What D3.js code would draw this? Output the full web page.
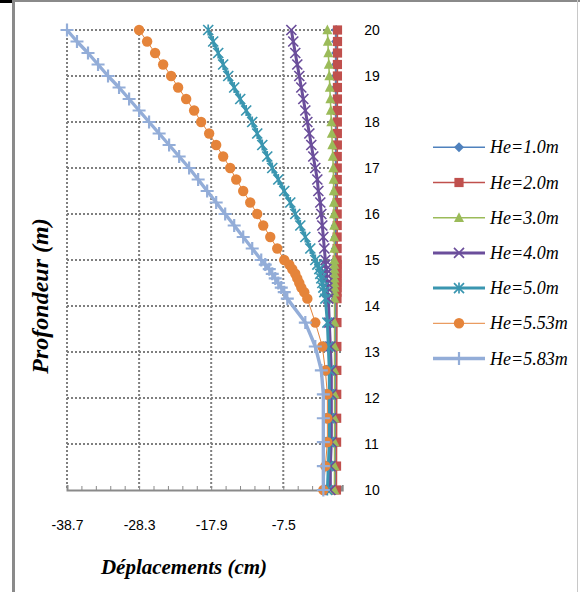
<!DOCTYPE html>
<html><head><meta charset="utf-8">
<script src="https://cdn.jsdelivr.net/npm/d3@7"></script>
<style>body{margin:0;background:#fff}svg{display:block}</style>
</head><body>
<script>
// ---- data ----
const depths = [20,19.75,19.5,19.25,19,18.75,18.5,18.25,18,17.75,17.5,17.25,17,16.75,16.5,16.25,16,15.75,15.5,15.25,15,
  14.9,14.8,14.7,14.6,14.5,14.4,14.3,14.16,
  13.64,13.12,12.6,12.08,11.56,11.04,10.52,10];
const seriesNames = ["He=1.0m","He=2.0m","He=3.0m","He=4.0m","He=5.0m","He=5.53m","He=5.83m"];
const he10 = [0.12,0.12,0.12,0.12,0.11,0.11,0.11,0.11,0.10,0.10,0.10,0.10,0.09,0.09,0.09,0.09,0.08,0.08,0.08,0.08,0.07,
  0.07,0.07,0.07,0.07,0.06,0.06,0.06,0.06, 0.05,0.05,0.04,0.04,0.03,0.03,0.02,0.02];
const he20 = [0.32,0.32,0.32,0.31,0.31,0.31,0.31,0.30,0.30,0.30,0.30,0.29,0.29,0.29,0.29,0.28,0.28,0.28,0.27,0.27,0.27,
  0.27,0.26,0.26,0.26,0.26,0.25,0.25,0.25, 0.24,0.23,0.22,0.21,0.20,0.19,0.18,0.17];
const he30 = [-1.14,-1.07,-1.00,-0.93,-0.86,-0.79,-0.71,-0.64,-0.57,-0.50,-0.43,-0.36,-0.28,-0.25,-0.22,-0.20,-0.18,-0.16,-0.15,-0.14,-0.13,
  -0.13,-0.12,-0.12,-0.12,-0.11,-0.11,-0.11,-0.10, -0.10,-0.10,-0.10,-0.10,-0.10,-0.10,-0.11,-0.12];
const he40 = [-6.34,-6.06,-5.77,-5.48,-5.19,-4.90,-4.61,-4.32,-4.03,-3.74,-3.46,-3.17,-2.88,-2.59,-2.44,-2.16,-2.01,-1.87,-1.72,-1.58,-1.43,
  -1.43,-1.29,-1.29,-1.29,-1.14,-1.14,-1.14,-1.00, -0.86,-0.71,-0.57,-0.57,-0.57,-0.57,-0.71,-0.71];
const he50 = [-18.33,-17.61,-16.89,-16.17,-15.44,-14.58,-13.71,-12.85,-11.98,-11.26,-10.53,-9.81,-9.09,-8.22,-7.36,-6.49,-5.77,-5.04,-4.32,-3.60,-2.88,
  -2.59,-2.30,-2.16,-2.01,-1.87,-1.72,-1.58,-1.43, -1.14,-1.00,-0.86,-0.86,-0.86,-0.86,-1.00,-1.14];
const he553 = [-28.30,-27.14,-25.99,-24.83,-23.68,-22.67,-21.51,-20.36,-19.35,-18.19,-17.18,-16.17,-15.16,-14.29,-13.28,-12.27,-11.26,-10.39,-9.38,-8.37,-7.36,
  -6.63,-6.20,-5.77,-5.48,-5.19,-4.90,-4.47,-4.03, -2.88,-1.87,-1.43,-1.14,-1.14,-1.14,-1.43,-1.72];
const he583 = [-38.70,-37.26,-35.67,-34.22,-32.78,-31.19,-29.74,-28.30,-26.86,-25.41,-23.97,-22.52,-21.08,-19.78,-18.48,-17.18,-15.88,-14.58,-13.28,-11.98,-10.68,
  -10.10,-9.52,-9.09,-8.66,-8.22,-7.79,-7.36,-6.92, -4.32,-2.88,-2.01,-1.72,-1.72,-1.72,-1.72,-1.72];
const xTickValues = [-38.7,-28.3,-17.9,-7.5];
const xTickLabels = ["-38.7","-28.3","-17.9","-7.5"];
const yTickValues = [10,11,12,13,14,15,16,17,18,19,20];
const yTickLabels = ["10","11","12","13","14","15","16","17","18","19","20"];
const xTitle = "Déplacements (cm)";
const yTitle = "Profondeur (m)";

// ---- styles ----
const styles = [
  {color:"#4F81BD", width:1.5, marker:"diamond"},
  {color:"#C0504D", width:1.5, marker:"square"},
  {color:"#9BBB59", width:1.5, marker:"triangle"},
  {color:"#6B4E9B", width:3, marker:"x"},
  {color:"#3A96B0", width:3, marker:"asterisk"},
  {color:"#E5843A", width:1, marker:"circle"},
  {color:"#93ADD8", width:3.4, marker:"plus"}
];
const values = [he10,he20,he30,he40,he50,he553,he583];

const W=580,H=592;
const svg = d3.select("body").append("svg").attr("width",W).attr("height",H);

// frame
svg.append("rect").attr("x",0).attr("y",0).attr("width",13).attr("height",3).attr("fill","#000");
svg.append("rect").attr("x",12).attr("y",0).attr("width",568).attr("height",2).attr("fill","#8a8a8a");
svg.append("rect").attr("x",12).attr("y",0).attr("width",3).attr("height",H).attr("fill","#8a8a8a");
svg.append("rect").attr("x",577).attr("y",0).attr("width",1).attr("height",H).attr("fill","#c8c8c8");

const x = d3.scaleLinear().domain([-38.7, 1.0]).range([67, 342.2]);
const y = d3.scaleLinear().domain([10, 20]).range([490, 30]);

// grid
const grid = svg.append("g").attr("stroke","#7f7f7f").attr("stroke-width",2).attr("stroke-dasharray","2,2");
yTickValues.filter(v=>v>10).forEach(v=>{
  grid.append("line").attr("x1",x(-38.7)).attr("x2",x(1.0)).attr("y1",y(v)).attr("y2",y(v));
});
xTickValues.forEach(v=>{
  grid.append("line").attr("x1",x(v)).attr("x2",x(v)).attr("y1",y(20)).attr("y2",y(10));
});

// x axis (line + minor ticks)
const minor = d3.range(0, 20).map(i => +(-38.7 + i*2.08).toFixed(2)).filter(v => v <= 1.0);
const xAxisG = svg.append("g").attr("transform",`translate(0,${y(10)})`)
  .call(d3.axisBottom(x).tickValues(minor).tickSizeInner(-4).tickSizeOuter(-5).tickFormat(""));
xAxisG.select(".domain").attr("stroke","#8a8a8a").attr("stroke-width",2);
xAxisG.selectAll(".tick line").attr("stroke","#8a8a8a").attr("stroke-width",1);

const xLab = svg.append("g").attr("transform",`translate(0,${y(10)})`)
  .call(d3.axisBottom(x).tickValues(xTickValues).tickSize(0).tickPadding(30)
    .tickFormat((d,i)=>xTickLabels[i]));
xLab.select(".domain").remove();
xLab.selectAll("text").attr("font-family","'Liberation Sans', Arial, sans-serif").attr("font-size",14).attr("fill","#000");

// y axis at x=0, labels on the right
const yAxisG = svg.append("g").attr("transform",`translate(${x(0)},0)`)
  .call(d3.axisRight(y).tickValues(yTickValues).tickSize(0).tickPadding(29)
    .tickFormat((d,i)=>yTickLabels[i]));
yAxisG.select(".domain").attr("stroke","#8a8a8a").attr("stroke-width",2);
yAxisG.selectAll("text").attr("font-family","'Liberation Sans', Arial, sans-serif").attr("font-size",14).attr("fill","#000");

// markers
function drawMarker(g, type, color, cx, cy){
  if(type==="diamond"){
    g.append("path").attr("d",`M${cx},${cy-5}L${cx+5},${cy}L${cx},${cy+5}L${cx-5},${cy}Z`).attr("fill",color);
  } else if(type==="square"){
    g.append("rect").attr("x",cx-4.6).attr("y",cy-4.6).attr("width",9.2).attr("height",9.2).attr("fill",color);
  } else if(type==="triangle"){
    g.append("path").attr("d",`M${cx},${cy-5.5}L${cx+5},${cy+4.2}L${cx-5},${cy+4.2}Z`).attr("fill",color);
  } else if(type==="circle"){
    g.append("circle").attr("cx",cx).attr("cy",cy).attr("r",5.2).attr("fill",color);
  } else if(type==="x"){
    g.append("path").attr("d",`M${cx-5},${cy-5}L${cx+5},${cy+5}M${cx-5},${cy+5}L${cx+5},${cy-5}`)
      .attr("stroke",color).attr("stroke-width",1.7).attr("fill","none");
  } else if(type==="asterisk"){
    g.append("path").attr("d",`M${cx-5},${cy-5}L${cx+5},${cy+5}M${cx-5},${cy+5}L${cx+5},${cy-5}M${cx},${cy-5.5}L${cx},${cy+5.5}`)
      .attr("stroke",color).attr("stroke-width",1.7).attr("fill","none");
  } else if(type==="plus"){
    g.append("path").attr("d",`M${cx-6.5},${cy}L${cx+6.5},${cy}M${cx},${cy-6.5}L${cx},${cy+6.5}`)
      .attr("stroke",color).attr("stroke-width",2.2).attr("fill","none");
  }
}

const line = d3.line().x(d=>x(d[0])).y(d=>y(d[1]));
values.forEach((vals,si)=>{
  const st = styles[si];
  const pts = vals.map((v,i)=>[v, depths[i]]);
  const g = svg.append("g");
  g.append("path").datum(pts).attr("d",line).attr("fill","none")
    .attr("stroke",st.color).attr("stroke-width",st.width).attr("stroke-linejoin","round");
  pts.forEach(p=>drawMarker(g, st.marker, st.color, x(p[0]), y(p[1])));
});

// legend
const lg = svg.append("g");
seriesNames.forEach((name,i)=>{
  const st = styles[i];
  const ly = 147.3 + i*35.2;
  lg.append("line").attr("x1",433).attr("x2",485).attr("y1",ly).attr("y2",ly)
    .attr("stroke",st.color).attr("stroke-width",st.width);
  drawMarker(lg, st.marker, st.color, 459, ly);
  lg.append("text").attr("x",490).attr("y",ly+6).text(name)
    .attr("font-family","'Liberation Serif', 'Times New Roman', serif").attr("font-style","italic")
    .attr("font-size",18).attr("fill","#000");
});

// titles
svg.append("text").attr("x",184).attr("y",574).attr("text-anchor","middle").text(xTitle)
  .attr("font-family","'Liberation Serif', 'Times New Roman', serif").attr("font-style","italic")
  .attr("font-weight","bold").attr("font-size",21).attr("fill","#000");
svg.append("text").attr("transform","translate(48,296) rotate(-90)").attr("text-anchor","middle").text(yTitle)
  .attr("font-family","'Liberation Serif', 'Times New Roman', serif").attr("font-style","italic")
  .attr("font-weight","bold").attr("font-size",24).attr("fill","#000");
</script>
</body></html>
